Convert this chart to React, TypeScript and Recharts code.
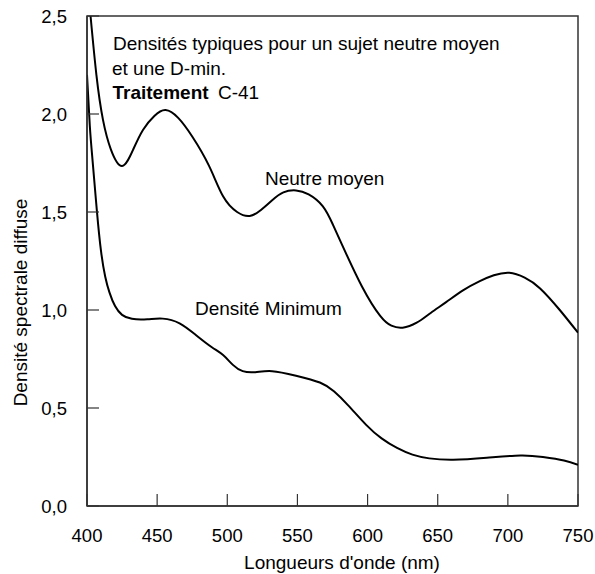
import React from "react";
import { LineChart, Line, XAxis, YAxis, ReferenceArea, Customized } from "recharts";

const xTicks = [400, 450, 500, 550, 600, 650, 700, 750];
const yTicks = [0, 0.5, 1.0, 1.5, 2.0, 2.5];

const neutreMoyen = [
  { nm: 400, d: 2.69 }, { nm: 402.4, d: 2.51 }, { nm: 406.7, d: 2.2 }, { nm: 411.4, d: 1.97 },
  { nm: 417, d: 1.82 }, { nm: 425, d: 1.735 }, { nm: 433, d: 1.82 }, { nm: 440, d: 1.92 },
  { nm: 448, d: 1.99 }, { nm: 456, d: 2.02 }, { nm: 465, d: 1.98 }, { nm: 475, d: 1.885 },
  { nm: 487, d: 1.735 }, { nm: 497, d: 1.58 }, { nm: 507, d: 1.5 }, { nm: 516, d: 1.48 },
  { nm: 524, d: 1.51 }, { nm: 532, d: 1.56 }, { nm: 540, d: 1.6 }, { nm: 549, d: 1.61 },
  { nm: 558, d: 1.59 }, { nm: 568, d: 1.53 }, { nm: 575, d: 1.44 }, { nm: 582, d: 1.33 },
  { nm: 596, d: 1.12 }, { nm: 609, d: 0.97 }, { nm: 617, d: 0.92 }, { nm: 625, d: 0.91 },
  { nm: 635, d: 0.935 }, { nm: 645, d: 0.985 }, { nm: 656, d: 1.04 }, { nm: 668, d: 1.1 },
  { nm: 680, d: 1.147 }, { nm: 690, d: 1.177 }, { nm: 701, d: 1.19 }, { nm: 712, d: 1.165 },
  { nm: 723, d: 1.11 }, { nm: 737, d: 1.0 }, { nm: 750, d: 0.884 },
];

const densiteMinimum = [
  { nm: 400, d: 2.2 }, { nm: 402, d: 1.94 }, { nm: 404, d: 1.76 }, { nm: 407, d: 1.51 },
  { nm: 410, d: 1.3 }, { nm: 413, d: 1.17 }, { nm: 416, d: 1.09 }, { nm: 420, d: 1.02 },
  { nm: 425, d: 0.975 }, { nm: 432, d: 0.955 }, { nm: 443, d: 0.953 }, { nm: 454, d: 0.956 },
  { nm: 466, d: 0.932 }, { nm: 478, d: 0.87 }, { nm: 489, d: 0.81 }, { nm: 497, d: 0.77 },
  { nm: 504, d: 0.72 }, { nm: 511, d: 0.688 }, { nm: 520, d: 0.683 }, { nm: 532, d: 0.688 },
  { nm: 549, d: 0.665 }, { nm: 566, d: 0.63 }, { nm: 576, d: 0.585 }, { nm: 586, d: 0.515 },
  { nm: 599, d: 0.414 }, { nm: 610, d: 0.345 }, { nm: 621, d: 0.296 }, { nm: 632, d: 0.262 },
  { nm: 644, d: 0.243 }, { nm: 661, d: 0.236 }, { nm: 685, d: 0.246 }, { nm: 709, d: 0.258 },
  { nm: 725, d: 0.25 }, { nm: 740, d: 0.232 }, { nm: 750, d: 0.21 },
];

const FONT = '"Liberation Sans", Arial, Helvetica, sans-serif';
const FS = 19;
const TFS = 18.5;
const X_GAP = 23;
const Y_GAP = 20;
const TICK_LEN = 12;

const fmtY = (v: number) => v.toFixed(1).replace(".", ",");

const XTick = (props: any) => {
  const { x, y, payload } = props;
  const axisY = y - X_GAP;
  return (
    <g>
      <line x1={x} x2={x} y1={axisY} y2={axisY - TICK_LEN} stroke="#333" strokeWidth={1.2} />
      <text x={x} y={y} dy="0.71em" textAnchor="middle" fontSize={TFS} fontFamily={FONT} fill="#000">
        {payload.value}
      </text>
    </g>
  );
};

const YTick = (props: any) => {
  const { x, y, payload } = props;
  const axisX = x + Y_GAP;
  return (
    <g>
      <line x1={axisX} x2={axisX + TICK_LEN} y1={y} y2={y} stroke="#333" strokeWidth={1.2} />
      <text x={x} y={y} dy="0.355em" textAnchor="end" fontSize={TFS} fontFamily={FONT} fill="#000">
        {fmtY(payload.value)}
      </text>
    </g>
  );
};

const Annotations = () => (
  <g fontFamily={FONT} fontSize={FS} fill="#000">
    <text x={113} y={50}>Densités typiques pour un sujet neutre moyen</text>
    <text x={112} y={75}>et une D-min.</text>
    <text x={112.5} y={99} fontWeight="bold">Traitement</text>
    <text x={218} y={99}>C-41</text>
    <text x={265} y={185}>Neutre moyen</text>
    <text x={195} y={315}>Densité Minimum</text>
    <text x={0} y={0} transform="translate(27, 302.5) rotate(-90)" textAnchor="middle">
      Densité spectrale diffuse
    </text>
    <text x={342} y={568.5} textAnchor="middle">Longueurs d'onde (nm)</text>
  </g>
);

export default function App() {
  return (
    <div style={{ position: "absolute", left: 0, top: 0, width: 595, height: 574 }}>
      <LineChart
        width={595}
        height={574}
        margin={{ top: 16, right: 17, left: 0, bottom: 0 }}
        style={{ fontFamily: FONT }}
      >
        <XAxis
          dataKey="nm"
          type="number"
          domain={[400, 750]}
          ticks={xTicks}
          allowDataOverflow
          height={68}
          tickSize={0}
          tickMargin={X_GAP}
          tickLine={false}
          axisLine={{ stroke: "#333", strokeWidth: 1.5 }}
          tick={<XTick />}
          interval={0}
        />
        <YAxis
          type="number"
          domain={[0, 2.5]}
          ticks={yTicks}
          allowDataOverflow
          width={87}
          tickSize={0}
          tickMargin={Y_GAP}
          tickLine={false}
          axisLine={{ stroke: "#333", strokeWidth: 1.5 }}
          tick={<YTick />}
          interval={0}
        />
        <ReferenceArea x1={400} x2={750} y1={0} y2={2.5} fill="none" stroke="#333" strokeWidth={1.5} />
        <Line
          data={neutreMoyen}
          dataKey="d"
          type="natural"
          stroke="#000"
          strokeWidth={2}
          dot={false}
          isAnimationActive={false}
        />
        <Line
          data={densiteMinimum}
          dataKey="d"
          type="natural"
          stroke="#000"
          strokeWidth={2}
          dot={false}
          isAnimationActive={false}
        />
        <Customized component={Annotations} />
      </LineChart>
    </div>
  );
}
